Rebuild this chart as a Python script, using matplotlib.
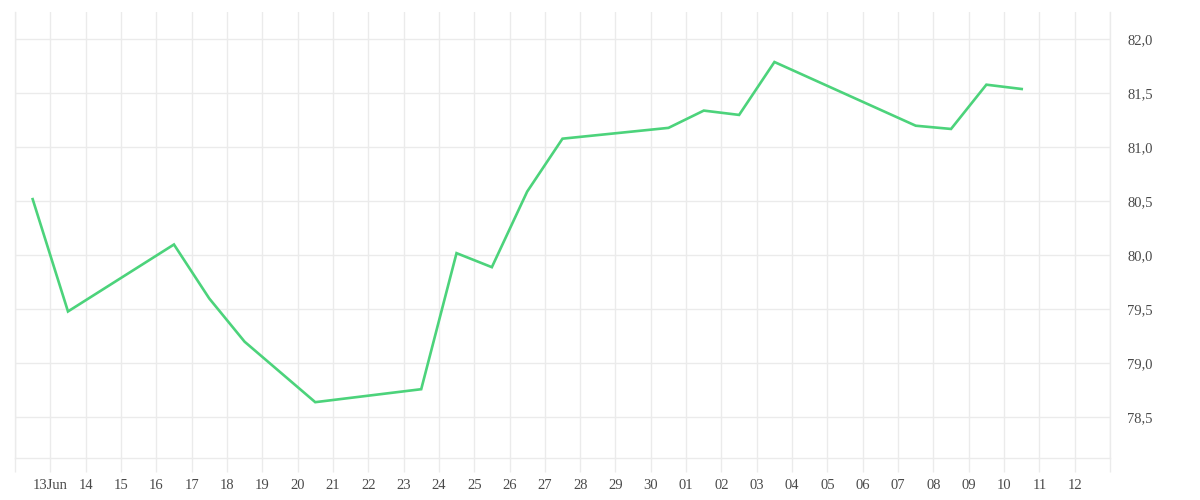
import numpy as np
import pandas as pd
import matplotlib
matplotlib.use("Agg")
import matplotlib.pyplot as plt
import matplotlib.dates as mdates
from matplotlib.ticker import FuncFormatter

# data (one point per trading day, shown at midday)
dates = ["2023-06-12 12:00", "2023-06-13 12:00", "2023-06-16 12:00", "2023-06-17 12:00",
         "2023-06-18 12:00", "2023-06-20 12:00", "2023-06-23 12:00", "2023-06-24 12:00",
         "2023-06-25 12:00", "2023-06-26 12:00", "2023-06-27 12:00", "2023-06-30 12:00",
         "2023-07-01 12:00", "2023-07-02 12:00", "2023-07-03 12:00", "2023-07-07 12:00",
         "2023-07-08 12:00", "2023-07-09 12:00", "2023-07-10 12:00"]
values = [80.52, 79.48, 80.10, 79.60, 79.20, 78.64, 78.76, 80.02, 79.89, 80.59,
          81.08, 81.18, 81.34, 81.30, 81.79, 81.20, 81.17, 81.58, 81.54]
yticks = [78.5, 79.0, 79.5, 80.0, 80.5, 81.0, 81.5, 82.0]

#style
linie = "#4cd37b"
mriz = "#ebebeb"
pismo = "#4a4a4a"
plt.rcParams['font.family'] = ['Liberation Serif', 'DejaVu Serif']

x = pd.to_datetime(dates)
dny = pd.date_range("2023-06-12", "2023-07-13", freq="D")

fig = plt.figure(figsize=(12, 5), dpi=100)
ax = fig.add_axes([0.0125, 0.084, 0.9125, 0.892])

ax.plot(x, values, color=linie, linewidth=1.9, solid_joinstyle="miter")

ax.set_xlim(dny[0], dny[-1])
ax.set_ylim(78.123, 82.253)

# x axis - every day, first label with month
popisky = []
for i, d in enumerate(dny):
    if i == 0 or i == len(dny) - 1:
        popisky.append("")
    elif d.day == 13 and d.month == 6:
        popisky.append("13Jun")
    else:
        popisky.append(d.strftime("%d"))
ax.set_xticks(mdates.date2num(dny))
ax.set_xticklabels(popisky)

ax.set_yticks(yticks)
ax.yaxis.set_major_formatter(FuncFormatter(lambda v, p: ("%.1f" % v).replace(".", ",")))
ax.yaxis.tick_right()

ax.grid(True, color=mriz, linewidth=1)
ax.set_axisbelow(True)
ax.tick_params(axis="x", length=10, width=1, color=mriz, labelsize=10.5, labelcolor=pismo, pad=5)
ax.tick_params(axis="y", length=0, labelsize=10.5, labelcolor=pismo, pad=12.5)

for s in ["left", "bottom", "right"]:
    ax.spines[s].set_color(mriz)
    ax.spines[s].set_linewidth(1)
ax.spines["top"].set_visible(False)

fig.savefig("out.png", dpi=100)
